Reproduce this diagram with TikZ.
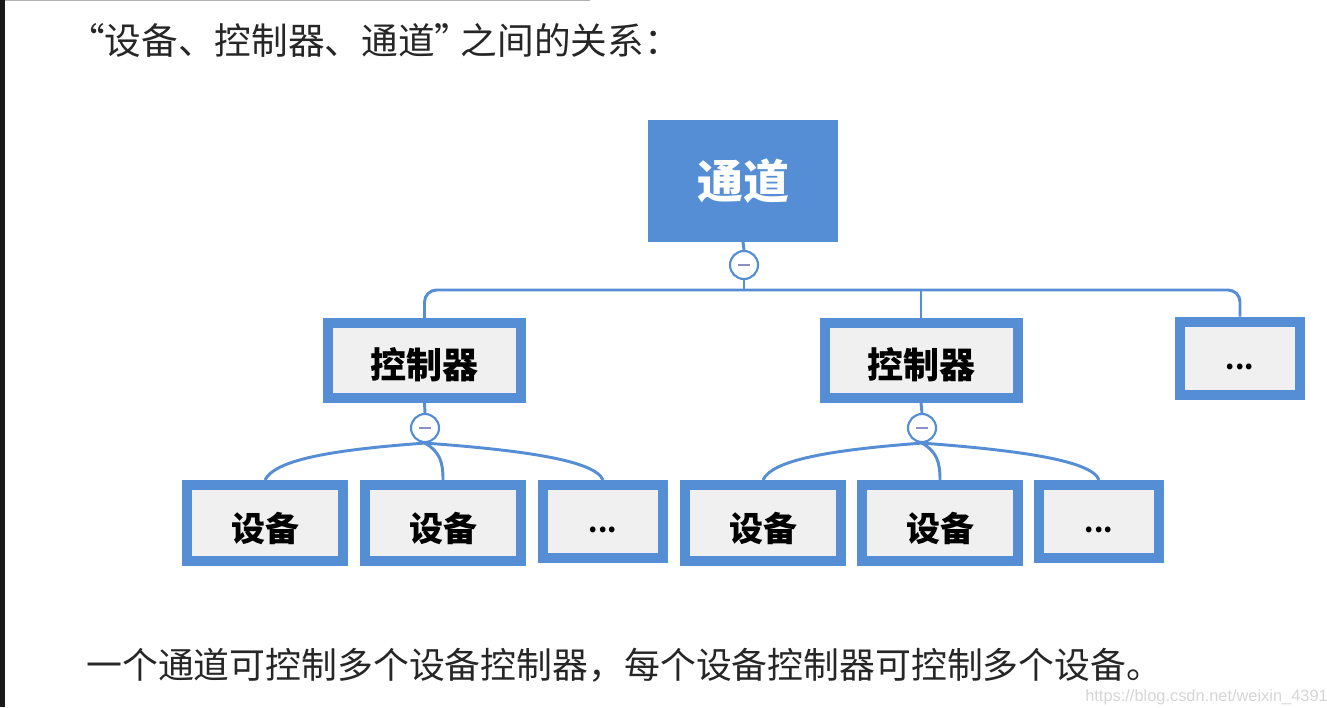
\documentclass[tikz,border=0pt]{standalone}
\usepackage{fontspec}
\newfontfamily\cjk{Noto Sans CJK SC}
\definecolor{cblue}{HTML}{558ED5}
\definecolor{cgray}{HTML}{F0F0F0}
\definecolor{cminus}{HTML}{8C90C8}
\tikzset{
  conn/.style={draw=cblue, line width=2.2pt},
  topbox/.style={fill=cblue, draw=cblue, line width=0.5pt, minimum width=142pt, minimum height=91pt, inner sep=0pt, text=white, font=\cjk\bfseries\fontsize{34.5pt}{36pt}\selectfont},
  ctlbox/.style={draw=cblue, fill=cgray, line width=7.5pt, minimum width=144.75pt, minimum height=56.25pt, inner sep=0pt, text height=27.5pt, text depth=0pt, font=\cjk\bfseries\fontsize{27pt}{28pt}\selectfont},
  devbox/.style={draw=cblue, fill=cgray, line width=7.5pt, minimum width=117pt, minimum height=57pt, inner sep=0pt, text height=27pt, text depth=0pt, font=\cjk\bfseries\fontsize{25.5pt}{27pt}\selectfont},
  morebox/.style={draw=cblue, fill=cgray, line width=7.5pt, minimum width=90pt, minimum height=54.75pt, inner sep=0pt, text height=17pt, text depth=0pt, font=\cjk\bfseries\fontsize{20pt}{22pt}\selectfont},
  toggle/.style={circle, draw=cblue, fill=white, line width=1.6pt, minimum size=21pt, inner sep=0pt, path picture={\draw[cminus, line width=1.6pt] ([xshift=-4.5pt]path picture bounding box.center) -- ([xshift=4.5pt]path picture bounding box.center);}},
  plain/.style={anchor=west, inner sep=0pt, text=black!85}
}
\begin{document}
\begin{tikzpicture}[x=0.75pt, y=-0.75pt]
\useasboundingbox (0,0) rectangle (1327,707);
\fill[white] (0,0) rectangle (1327,707);
\fill[black!90] (0,0) rectangle (5,707);
\draw[black!30, line width=1pt] (5,0.5) -- (590,0.5);

\node[plain, font=\cjk\fontsize{27.5pt}{29pt}\selectfont] (title) at (68,40) {“设备、控制器、通道”\kern-8pt 之间的关系：};
\node[plain, font=\cjk\fontsize{26.9pt}{28pt}\selectfont] (note) at (86,665) {一个通道可控制多个设备控制器，每个设备控制器可控制多个设备。};
\node[anchor=west, inner sep=0pt, text=black!16, font=\fontspec{Liberation Sans}\fontsize{12.3pt}{14pt}\selectfont] (wm) at (1085,697) {https://blog.csdn.net/weixin\_4391};

% top
\node[topbox] (ch) at (743,181) {通道};
\node[toggle] (t0) at (744,265) {};
\draw[conn] (ch.south) -- (t0.north);

% controllers
\node[ctlbox] (k1) at (424.5,360.5) {控制器};
\node[ctlbox] (k2) at (921,360.5) {控制器};
\node[morebox] (km) at (1240,358) {...};
\coordinate (hy) at (744,290);
\draw[conn] (t0.south) -- (hy);
\draw[conn, rounded corners=9pt] (k1.north) |- (hy) -| (km.north);
\draw[conn] (k2.north) -- (k2.north |- hy);

% toggles under controllers
\node[toggle] (t1) at (425,428) {};
\node[toggle] (t2) at (922,428) {};
\draw[conn] (k1.south) -- (t1.north);
\draw[conn] (k2.south) -- (t2.north);

% devices
\node[devbox] (d1) at (265,523) {设备};
\node[devbox] (d2) at (443,523) {设备};
\node[morebox] (d3) at (603,521.5) {...};
\node[devbox] (d4) at (763,523) {设备};
\node[devbox] (d5) at (940,523) {设备};
\node[morebox] (d6) at (1099,521.5) {...};

\draw[conn] (t1.south) .. controls (330,450) and (275,460) .. (d1.north);
\draw[conn] (t1.south) .. controls (440,452) and (443,462) .. (d2.north);
\draw[conn] (t1.south) .. controls (520,450) and (595,460) .. (d3.north);
\draw[conn] (t2.south) .. controls (830,450) and (772,460) .. (d4.north);
\draw[conn] (t2.south) .. controls (937,452) and (940,462) .. (d5.north);
\draw[conn] (t2.south) .. controls (1015,450) and (1092,460) .. (d6.north);
\end{tikzpicture}
\end{document}
